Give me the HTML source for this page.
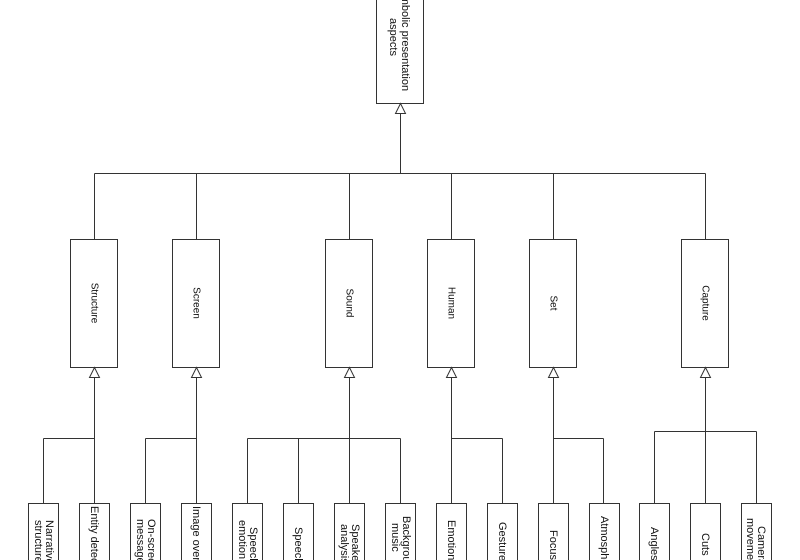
<!DOCTYPE html>
<html><head><meta charset="utf-8"><style>
html,body{margin:0;padding:0;background:#fff;}
svg{display:block;}
text{font-family:"Liberation Sans",Arial,sans-serif;font-size:10px;fill:#111;}
.l text, text.l{font-size:11px;}
</style></head><body>
<svg width="800" height="560" viewBox="0 0 800 560" xmlns="http://www.w3.org/2000/svg">
<g fill="#fff" stroke="#333" stroke-width="1">
<rect x="376.5" y="-10" width="47" height="113.5"/>
<rect x="70.5" y="239.5" width="47" height="128"/>
<rect x="172.5" y="239.5" width="47" height="128"/>
<rect x="325.5" y="239.5" width="47" height="128"/>
<rect x="427.5" y="239.5" width="47" height="128"/>
<rect x="529.5" y="239.5" width="47" height="128"/>
<rect x="681.5" y="239.5" width="47" height="128"/>
<rect x="28.5" y="503.5" width="30" height="80"/>
<rect x="79.5" y="503.5" width="30" height="80"/>
<rect x="130.5" y="503.5" width="30" height="80"/>
<rect x="181.5" y="503.5" width="30" height="80"/>
<rect x="232.5" y="503.5" width="30" height="80"/>
<rect x="283.5" y="503.5" width="30" height="80"/>
<rect x="334.5" y="503.5" width="30" height="80"/>
<rect x="385.5" y="503.5" width="30" height="80"/>
<rect x="436.5" y="503.5" width="30" height="80"/>
<rect x="487.5" y="503.5" width="30" height="80"/>
<rect x="538.5" y="503.5" width="30" height="80"/>
<rect x="589.5" y="503.5" width="30" height="80"/>
<rect x="639.5" y="503.5" width="30" height="80"/>
<rect x="690.5" y="503.5" width="30" height="80"/>
<rect x="741.5" y="503.5" width="30" height="80"/>
</g>
<g fill="none" stroke="#333" stroke-width="1">
<path d="M400.5 113V173.5M94.5 173.5H705.5M94.5 173.5V239M196.5 173.5V239M349.5 173.5V239M451.5 173.5V239M553.5 173.5V239M705.5 173.5V239"/>
<path d="M94.5 378V503M43.5 438.5H94.5M43.5 438.5V503"/>
<path d="M196.5 378V503M145.5 438.5H196.5M145.5 438.5V503"/>
<path d="M349.5 378V438.5M247.5 438.5H400.5M247.5 438.5V503M298.5 438.5V503M349.5 438.5V503M400.5 438.5V503"/>
<path d="M451.5 378V503M451.5 438.5H502.5M502.5 438.5V503"/>
<path d="M553.5 378V503M553.5 438.5H603.5M603.5 438.5V503"/>
<path d="M705.5 378V503M654.5 431.5H756.5M654.5 431.5V503M756.5 431.5V503"/>
</g>
<g fill="#fff" stroke="#333" stroke-width="1">
<path d="M400.5 103.5L395.5 113.5H405.5Z"/>
<path d="M94.5 367.5L89.5 377.5H99.5Z"/>
<path d="M196.5 367.5L191.5 377.5H201.5Z"/>
<path d="M349.5 367.5L344.5 377.5H354.5Z"/>
<path d="M451.5 367.5L446.5 377.5H456.5Z"/>
<path d="M553.5 367.5L548.5 377.5H558.5Z"/>
<path d="M705.5 367.5L700.5 377.5H710.5Z"/>
</g>
<text class="l" transform="translate(405,37) rotate(90)" text-anchor="middle" dominant-baseline="central">Symbolic presentation</text>
<text class="l" transform="translate(393,37) rotate(90)" text-anchor="middle" dominant-baseline="central">aspects</text>
<g text-anchor="middle" dominant-baseline="central">
<text transform="translate(94,303) rotate(90)">Structure</text>
<text transform="translate(196,303) rotate(90)">Screen</text>
<text transform="translate(349,303) rotate(90)">Sound</text>
<text transform="translate(451,303) rotate(90)">Human</text>
<text transform="translate(553,303) rotate(90)">Set</text>
<text transform="translate(705,303) rotate(90)">Capture</text>
</g>
<g class="l" dominant-baseline="central">
<text transform="translate(49,520) rotate(90)">Narrative</text>
<text transform="translate(38,520) rotate(90)">structure</text>
<text transform="translate(94,506) rotate(90)">Entity detection</text>
<text transform="translate(151,519) rotate(90)">On-screen</text>
<text transform="translate(140,519) rotate(90)">messages</text>
<text transform="translate(196,506) rotate(90)">Image overlay</text>
<text transform="translate(253,527) rotate(90)">Speech</text>
<text transform="translate(242,520) rotate(90)">emotion</text>
<text transform="translate(298,527) rotate(90)">Speech</text>
<text transform="translate(355,524) rotate(90)">Speaker</text>
<text transform="translate(344,524) rotate(90)">analysis</text>
<text transform="translate(406,516) rotate(90)">Background</text>
<text transform="translate(395,523) rotate(90)">music</text>
<text transform="translate(451,520) rotate(90)">Emotion</text>
<text transform="translate(502,522) rotate(90)">Gesture</text>
<text transform="translate(553,530) rotate(90)">Focus</text>
<text transform="translate(604,516) rotate(90)">Atmosphere</text>
<text transform="translate(654,527) rotate(90)">Angles</text>
<text transform="translate(705,533) rotate(90)">Cuts</text>
<text transform="translate(761,526) rotate(90)">Camera</text>
<text transform="translate(750,518) rotate(90)">movement</text>
</g>
</svg>
</body></html>
